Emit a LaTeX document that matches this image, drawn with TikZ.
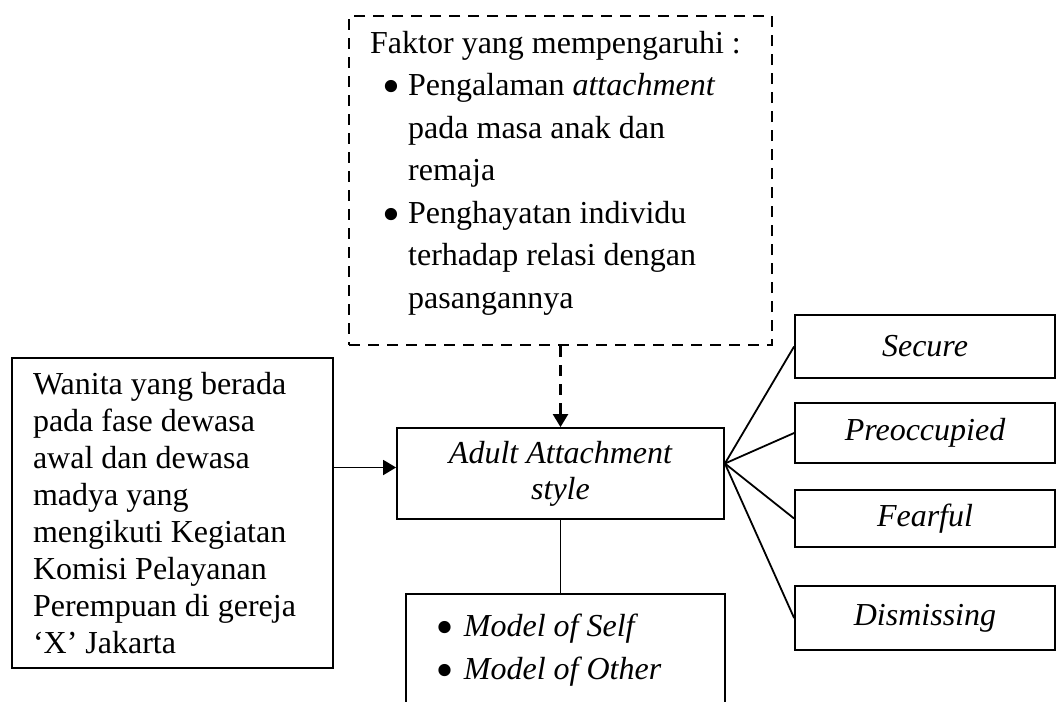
\documentclass[tikz,border=0pt]{standalone}
\usepackage{fontspec}
\setmainfont{Liberation Serif}
\usetikzlibrary{arrows.meta}

\newcommand{\blt}[2]{\hspace*{#1}\makebox[#2][l]{\raisebox{-8pt}[0pt][0pt]{\scalebox{1.6}{\textbullet}}}}

\tikzset{
  box/.style={draw, line width=1.8pt, inner sep=0pt},
  dashbox/.style={draw, line width=2.4pt, dash pattern=on 11pt off 8pt, inner sep=0pt},
  line/.style={line width=1.8pt},
  kind/.style={box, minimum width=260pt, font=\fontsize{32}{38}\selectfont\itshape},
}

\begin{document}
\begin{tikzpicture}[x=1pt, y=-1pt, >={Triangle[length=13pt, width=15pt]}]
    \useasboundingbox (0,0) rectangle (1059,701);
    \clip (0,0) rectangle (1059,701);
    % Faktor yang mempengaruhi
    \node[dashbox, minimum width=423pt, minimum height=329pt, anchor=north west] (faktor) at (348,15) {};
    \node[anchor=north west, inner sep=0pt, align=flush left, font=\fontsize{32}{42.5}\selectfont] (faktorlist) at (370,31)
      {Faktor yang mempengaruhi :\\
       \blt{12pt}{26pt}Pengalaman \textit{attachment}\\
       \hspace*{38pt}pada masa anak dan\\
       \hspace*{38pt}remaja\\
       \blt{12pt}{26pt}Penghayatan individu\\
       \hspace*{38pt}terhadap relasi dengan\\
       \hspace*{38pt}pasangannya};

    % Subjek
    \node[box, minimum width=321pt, minimum height=310pt, text width=279pt, align=flush left,
      font=\fontsize{32}{37}\selectfont] (wanita) at (172.5,513)
      {Wanita yang berada\\pada fase dewasa\\awal dan dewasa\\madya yang\\mengikuti Kegiatan\\Komisi Pelayanan\\Perempuan di gereja\\‘X’ Jakarta};

    % Adult attachment style
    \node[box, minimum width=327pt, minimum height=91pt, align=center,
      font=\fontsize{32}{36}\selectfont\itshape] (adult) at (560.5,473.5) {Adult Attachment\\style};
    \node[box, minimum width=319pt, minimum height=112pt, text width=259pt, align=flush left, anchor=north west,
      font=\fontsize{32}{43}\selectfont\itshape] (model) at (405,593)
      {\blt{0pt}{28pt}Model of Self\\\blt{0pt}{28pt}Model of Other};

    % Styles
    \node[kind, minimum height=63pt] (secure) at (925,346.5) {Secure};
    \node[kind, minimum height=60pt] (preocc) at (925,433) {Preoccupied};
    \node[kind, minimum height=57pt] (fearful) at (925,518.5) {Fearful};
    \node[kind, minimum height=64pt] (dismiss) at (925,618) {Dismissing};

    % Connectors
    \draw[->, dashbox] (faktor.south -| adult.north) -- (adult.north);
    \coordinate (in) at ([yshift=6pt]adult.west);
    \draw[->, line] (in -| wanita.east) -- (in);
    \draw[line] (adult.south) -- (adult.south |- model.north);
    \coordinate (fan) at ([yshift=10pt]adult.east);
    \foreach \k in {secure, preocc, fearful, dismiss}
      \draw[line] (fan) -- (\k.west);
\end{tikzpicture}
\end{document}
